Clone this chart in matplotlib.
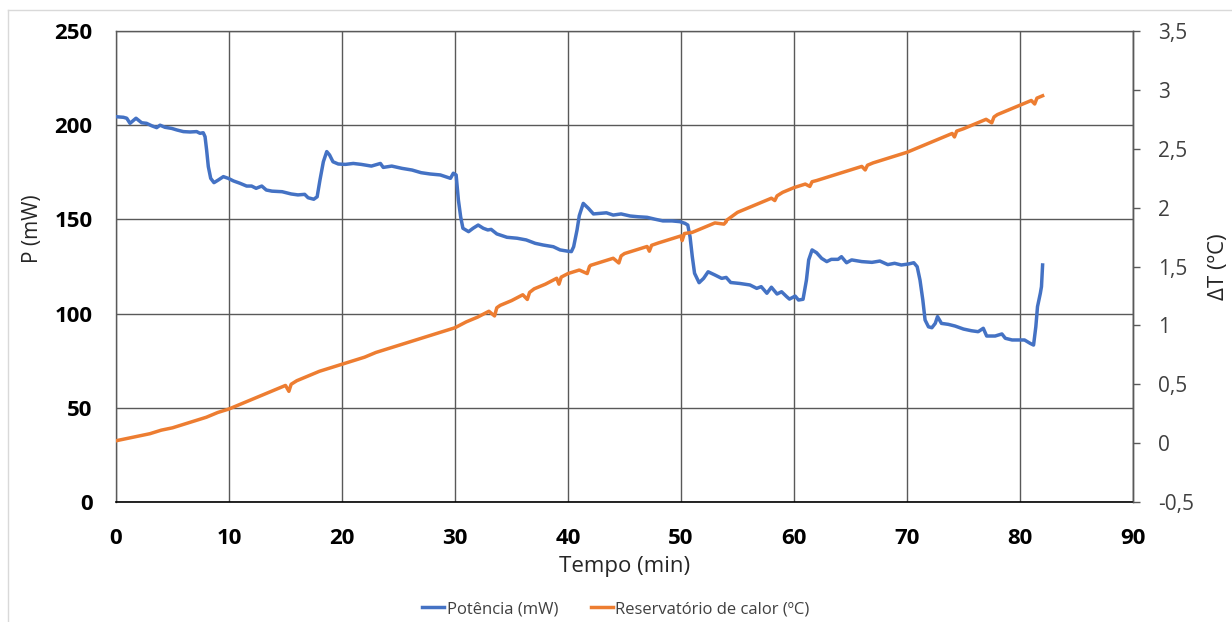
import matplotlib
matplotlib.use("Agg")
import matplotlib.pyplot as plt
from matplotlib.lines import Line2D

plt.rcParams['font.family'] = ['Open Sans', 'DejaVu Sans']

# ---- data ----
power_t = [0.0, 0.65, 0.95, 1.24, 1.77, 2.27, 2.7, 3.16, 3.6, 3.9, 4.33, 4.93, 5.37, 5.96,
           6.55, 7.14, 7.43, 7.72, 7.88, 8.02, 8.17, 8.38, 8.67, 9.05, 9.5, 9.93, 10.4, 10.96,
           11.56, 12.0, 12.4, 12.9, 13.3, 13.8, 14.7, 15.5, 16.1, 16.7, 17.0, 17.5, 17.8, 18.05,
           18.35, 18.65, 18.9, 19.2, 19.67, 20.3, 21.0, 21.7, 22.6, 23.4, 23.65, 24.4, 25.3, 26.2,
           27.0, 27.8, 28.7, 29.6, 29.85, 30.1, 30.3, 30.5, 30.7, 31.2, 31.6, 32.05, 32.5, 32.9,
           33.2, 33.7, 34.6, 35.5, 36.3, 37.1, 37.8, 38.7, 39.3, 39.9, 40.3, 40.5, 40.8, 41.0,
           41.35, 41.8, 42.25, 42.8, 43.4, 44.0, 44.7, 45.5, 46.2, 47.0, 47.7, 48.4, 49.2, 49.9,
           50.35, 50.6, 50.8, 51.0, 51.2, 51.6, 52.0, 52.4, 53.0, 53.6, 54.0, 54.4, 55.2, 56.1,
           56.7, 57.1, 57.6, 58.0, 58.5, 58.9, 59.35, 59.6, 60.1, 60.4, 60.8, 61.1, 61.3, 61.6,
           62.0, 62.45, 62.9, 63.3, 63.9, 64.2, 64.65, 65.1, 66.0, 66.9, 67.6, 68.3, 68.9, 69.5,
           70.1, 70.6, 70.9, 71.15, 71.4, 71.6, 71.9, 72.2, 72.5, 72.7, 73.05, 73.65, 74.25, 75.0,
           75.7, 76.3, 76.75, 77.05, 77.8, 78.4, 78.7, 79.3, 79.85, 80.4, 80.9, 81.2, 81.4, 81.55,
           81.8, 81.9, 82.0]
power_mw = [204.5, 204.2, 203.7, 201.0, 203.7, 201.3, 201.0, 199.7, 198.7, 200.0, 198.9, 198.3, 197.5, 196.6,
            196.4, 196.6, 195.7, 196.0, 193.9, 186.8, 178.0, 171.8, 169.5, 170.9, 172.7, 171.8, 170.4, 169.2,
            167.7, 167.7, 166.5, 167.7, 165.6, 165.0, 164.7, 163.5, 163.0, 163.3, 161.5, 160.7, 162.0, 170.9,
            180.6, 186.0, 184.2, 180.6, 179.4, 179.2, 179.7, 179.2, 178.3, 179.7, 177.6, 178.3, 177.1, 176.2,
            174.8, 174.1, 173.6, 171.8, 174.5, 173.6, 160.3, 151.4, 145.3, 143.5, 145.3, 147.0, 145.3, 144.4,
            144.7, 142.3, 140.5, 140.0, 139.1, 137.3, 136.4, 135.5, 133.8, 133.2, 132.9, 135.5, 144.4, 152.0,
            158.5, 155.9, 152.9, 153.2, 153.5, 152.3, 152.9, 151.8, 151.4, 151.1, 150.1, 149.2, 149.2, 148.8,
            147.9, 147.0, 140.8, 130.2, 121.4, 116.4, 118.7, 122.2, 120.5, 118.7, 119.2, 116.5, 116.0, 115.2,
            113.4, 114.3, 110.8, 114.0, 110.4, 111.6, 109.0, 107.7, 109.3, 107.2, 107.6, 117.8, 128.5, 133.8,
            132.3, 129.3, 127.6, 128.8, 128.8, 130.2, 127.0, 128.5, 127.6, 127.2, 127.9, 126.0, 126.7, 125.8,
            126.3, 127.0, 124.9, 117.8, 107.2, 96.6, 93.0, 92.5, 94.8, 98.4, 94.8, 94.3, 93.4, 91.8,
            90.9, 90.4, 92.2, 88.1, 88.1, 89.2, 86.9, 86.0, 86.0, 86.0, 84.2, 83.3, 93.0, 103.7,
            110.8, 114.3, 125.8]

temp_t = [0, 1, 2, 3, 4, 5, 6, 7, 8, 9, 10, 11, 12, 13, 14, 15, 15.3, 15.5, 16, 17, 18, 19, 20,
          21, 22, 23, 24, 25, 26, 27, 28, 29, 30, 31, 32, 33, 33.5, 33.7, 34, 35, 36, 36.4, 36.6,
          37, 38, 39, 39.2, 39.4, 40, 41, 41.7, 41.9, 42, 43, 44, 44.5, 44.7, 45, 46, 47, 47.2,
          47.4, 48, 49, 50, 50.1, 50.3, 51, 52, 53, 53.8, 54.0, 54, 55, 56, 57, 58, 58.3, 58.5,
          59, 60, 61, 61.4, 61.6, 62, 63, 64, 65, 66, 66.3, 66.5, 67, 68, 69, 70, 71, 72, 73, 74,
          74.2, 74.4, 75, 76, 77, 77.5, 77.7, 78, 79, 80, 81, 81.3, 81.5, 82]
temp_c = [0.02, 0.04, 0.06, 0.08, 0.11, 0.13, 0.16, 0.19, 0.22, 0.26, 0.29, 0.33, 0.37, 0.41, 0.45, 0.49, 0.44, 0.50, 0.53, 0.57, 0.61, 0.64, 0.67,
          0.70, 0.73, 0.77, 0.80, 0.83, 0.86, 0.89, 0.92, 0.95, 0.98, 1.03, 1.07, 1.12, 1.08, 1.15, 1.17, 1.21, 1.26, 1.22, 1.28,
          1.31, 1.35, 1.40, 1.35, 1.41, 1.44, 1.47, 1.44, 1.50, 1.51, 1.54, 1.57, 1.53, 1.59, 1.61, 1.64, 1.67, 1.63,
          1.68, 1.70, 1.73, 1.76, 1.72, 1.78, 1.79, 1.83, 1.87, 1.86, 1.88, 1.89, 1.96, 2.00, 2.04, 2.08, 2.06, 2.10,
          2.13, 2.17, 2.20, 2.18, 2.22, 2.23, 2.26, 2.29, 2.32, 2.35, 2.32, 2.36, 2.38, 2.41, 2.44, 2.47, 2.51, 2.55, 2.59, 2.63,
          2.60, 2.65, 2.67, 2.71, 2.75, 2.72, 2.77, 2.79, 2.83, 2.87, 2.91, 2.88, 2.93, 2.95]

x_ticks = [0, 10, 20, 30, 40, 50, 60, 70, 80, 90]
p_ticks = [0, 50, 100, 150, 200, 250]
t_ticks = [-0.5, 0, 0.5, 1, 1.5, 2, 2.5, 3, 3.5]
t_labels = ['-0,5', '0', '0,5', '1', '1,5', '2', '2,5', '3', '3,5']

# ---- figure ----
W, H = 1232, 622
fig = plt.figure(figsize=(W / 100, H / 100), dpi=100)
ax = fig.add_axes([116 / W, 1 - 502 / H, (1133 - 116) / W, (502 - 31) / H])
ax2 = ax.twinx()

# outer frame (light gray)
fig.add_artist(Line2D([8 / W, 1.0], [1 - 10 / H, 1 - 10 / H], color='#d9d9d9', lw=1))
fig.add_artist(Line2D([8 / W, 8 / W], [0, 1 - 10 / H], color='#d9d9d9', lw=1))

blue = '#4472C4'
orange = '#ED7D31'
gridc = '#595959'

l1, = ax.plot(power_t, power_mw, color=blue, lw=2.5, solid_joinstyle='round', zorder=3)
l2, = ax2.plot(temp_t, temp_c, color=orange, lw=2.5, solid_joinstyle='round', zorder=3)

ax.set_xlim(0, 90)
ax.set_ylim(0, 250)
ax2.set_ylim(-0.5, 3.5)
ax.set_xticks(x_ticks)
ax.set_yticks(p_ticks)
ax2.set_yticks(t_ticks)
ax2.set_yticklabels(t_labels)

ax.grid(True, color=gridc, lw=1)
ax.set_axisbelow(True)

for s in ['left', 'top', 'right']:
    ax.spines[s].set_color(gridc)
    ax.spines[s].set_linewidth(1)
ax.spines['bottom'].set_color('black')
ax.spines['bottom'].set_linewidth(1.2)
for s in ax2.spines.values():
    s.set_visible(False)
ax2.spines['right'].set_visible(True)
ax2.spines['right'].set_color(gridc)
ax2.spines['right'].set_linewidth(1)

ax.tick_params(axis='both', length=0, labelsize=16, labelcolor='black')
for lab in ax.get_xticklabels() + ax.get_yticklabels():
    lab.set_fontweight('bold')
ax.tick_params(axis='y', pad=17)
ax.tick_params(axis='x', pad=19)
ax2.tick_params(axis='y', length=5, width=1, color=gridc, labelsize=15,
                labelcolor='#404040', pad=13)

ax.set_xlabel('Tempo (min)', fontsize=16, color='#262626', labelpad=5)
ax.set_ylabel('P (mW)', fontsize=15, color='#262626')
ax.yaxis.set_label_coords(-0.072, 0.58)
ax2.set_ylabel('ΔT (ºC)', fontsize=16, color='#262626', labelpad=10)

fig.legend([l1, l2], ['Potência (mW)', 'Reservatório de calor (ºC)'],
           loc='center', bbox_to_anchor=(0.5, 1 - 609 / H), ncol=2, frameon=False,
           fontsize=12, labelcolor='#404040', handlelength=1.3, handletextpad=0.15,
           columnspacing=2.0)

fig.savefig('out.png', dpi=100, facecolor='white')
